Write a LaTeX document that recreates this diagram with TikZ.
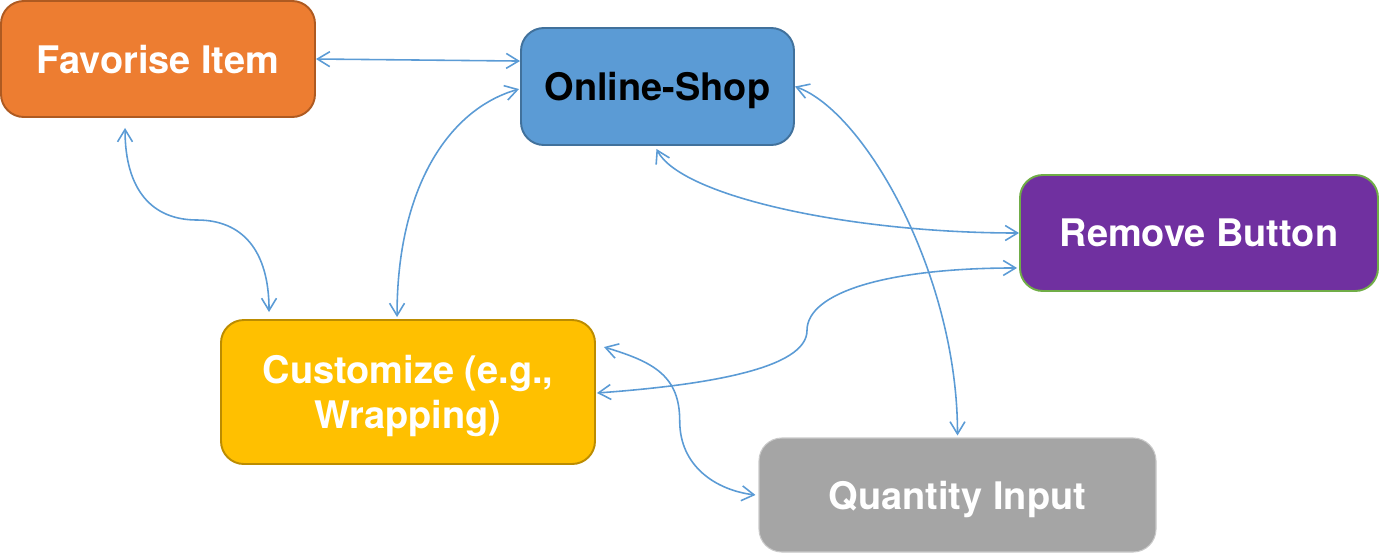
\documentclass[tikz,border=0pt]{standalone}
\usepackage{fontspec}
\setmainfont{TeX Gyre Heros}
\usetikzlibrary{arrows.meta,calc}
\definecolor{cOrange}{HTML}{ED7D31}
\definecolor{cOrangeD}{HTML}{AE5A21}
\definecolor{cBlue}{HTML}{5B9BD5}
\definecolor{cBlueD}{HTML}{41719C}
\definecolor{cPurple}{HTML}{7030A0}
\definecolor{cGreen}{HTML}{70AD47}
\definecolor{cYellow}{HTML}{FFC000}
\definecolor{cYellowD}{HTML}{BC8C00}
\definecolor{cGray}{HTML}{A5A5A5}
\definecolor{cGrayL}{HTML}{C9C9C9}
\definecolor{cLink}{HTML}{5B9BD5}
\tikzset{
  boxnode/.style={rounded corners=13pt, line width=1.1pt, inner sep=0pt, align=center,
    text depth=0pt,
    font=\fontsize{21.6}{25.8}\selectfont\bfseries, text=white},
  link/.style={draw=cLink, line width=0.9pt,
    {Straight Barb[length=7pt,width=8.5pt]}-{Straight Barb[length=7pt,width=8.5pt]}}
}
\begin{document}
\begin{tikzpicture}[x=0.02cm,y=-0.02cm]
\useasboundingbox (0,0) rectangle (1380,556);
\node[boxnode, fill=cOrange, draw=cOrangeD, minimum width=314*0.02cm, minimum height=116*0.02cm] (fav) at (158,59) {Favorise Item};
\node[boxnode, fill=cBlue, draw=cBlueD, text=black, minimum width=273*0.02cm, minimum height=117*0.02cm] (shop) at (657.5,86.5) {Online-Shop};
\node[boxnode, fill=cPurple, draw=cGreen, minimum width=358*0.02cm, minimum height=116*0.02cm] (rem) at (1199,233) {Remove Button};
\node[boxnode, fill=cYellow, draw=cYellowD, minimum width=374*0.02cm, minimum height=144*0.02cm] (cust) at (408,392) {Customize (e.g.,\\Wrapping)};
\node[boxnode, fill=cGray, draw=cGrayL, line width=0.6pt, minimum width=397*0.02cm, minimum height=114*0.02cm] (qty) at (957.5,495) {Quantity Input};

% Favorise <-> Online-Shop
\draw[link] (fav.east) -- ($(shop.north west)+(0,34)$);
% Favorise <-> Customize
\coordinate (fa) at ($(fav.south west)+(125,10)$);
\coordinate (fb) at ($(cust.north west)+(49,-7)$);
\draw[link] (fa) .. controls +(0,62) and +(-45,0) .. ($(fa)!0.5!(fb)$) .. controls +(45,0) and +(0,-62) .. (fb);
% Online-Shop <-> Customize
\draw[link] ($(shop.north west)+(-1,62)$) .. controls +(-70,20) and +(0,-130) .. ($(cust.north west)+(177,-2)$);
% Online-Shop <-> Quantity
\draw[link] (shop.east) .. controls +(70,25) and +(0,-160) .. ($(qty.north)+(0,-2)$);
% Online-Shop <-> Remove
\draw[link] ($(shop.south)+(-1,3)$) .. controls +(24,47) and +(-170,0) .. (rem.west);
% Remove <-> Customize
\coordinate (ra) at ($(rem.south west)+(-2,-24)$);
\coordinate (rb) at ($(cust.east)+(1,1)$);
\draw[link] (ra) .. controls +(-130,0) and +(0,-38) .. ($(ra)!0.5!(rb)$) .. controls +(0,38) and +(110,-8) .. (rb);
% Customize <-> Quantity
\coordinate (ca) at ($(cust.north east)+(8,28)$);
\coordinate (cb) at ($(qty.west)+(-3,0)$);
\draw[link] (ca) .. controls +(50,15) and +(0,-45) .. ($(ca)!0.5!(cb)$) .. controls +(0,45) and +(-40,-5) .. (cb);
\end{tikzpicture}
\end{document}
